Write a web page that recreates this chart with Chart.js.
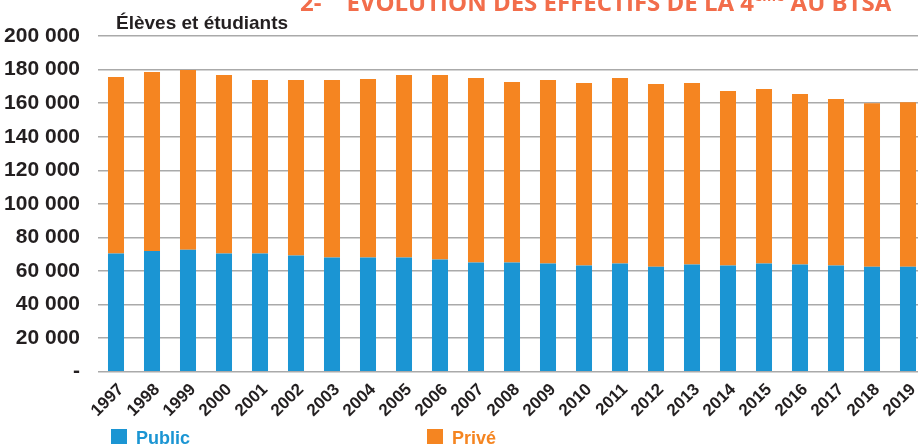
<!DOCTYPE html>
<html>
<head>
<meta charset="utf-8">
<script src="https://cdn.jsdelivr.net/npm/chart.js@4/dist/chart.umd.min.js"></script>
<style>
    html, body { margin: 0; padding: 0; background: #fff; }
    body { width: 918px; height: 444px; overflow: hidden; position: relative; }
    #wrap { position: absolute; left: 0; top: 0; width: 930px; height: 444px; }
    .title {
        position: absolute; left: 300px; top: -13px; white-space: nowrap;
        font-family: "Open Sans", sans-serif; font-weight: 700; font-size: 24px;
        color: #F26D4B; line-height: 30px;
    }
    .title sup { font-size: 14px; vertical-align: 10px; line-height: 0; }
    .subtitle {
        position: absolute; left: 116px; top: 12px; white-space: nowrap;
        font-family: "Liberation Sans Narrow", sans-serif; font-weight: 700; font-size: 19px;
        color: #231F20;
    }
    .legend { position: absolute; top: 428px; font-family: "Liberation Sans Narrow", sans-serif;
        font-weight: 700; font-size: 18px; white-space: nowrap; }
    .legend span.box { display: inline-block; width: 16px; height: 16px; vertical-align: top; margin-right: 9px; margin-top: 1px; }
</style>
</head>
<body>
<div id="wrap"><canvas id="chart"></canvas></div>
<div class="title">2-&nbsp;&nbsp;&nbsp;&nbsp;ÉVOLUTION DES EFFECTIFS DE LA 4<sup>ème</sup> AU BTSA</div>
<div class="subtitle">Élèves et étudiants</div>
<div class="legend" style="left:111px;color:#1B95D3"><span class="box" style="background:#1B95D3"></span>Public</div>
<div class="legend" style="left:427px;color:#F58521"><span class="box" style="background:#F58521"></span>Privé</div>
<script>
// Chart data
const years = ['1997', '1998', '1999', '2000', '2001', '2002', '2003', '2004', '2005', '2006', '2007', '2008',
    '2009', '2010', '2011', '2012', '2013', '2014', '2015', '2016', '2017', '2018', '2019'];
const publicValues = [70400, 71900, 72700, 70400, 70400, 69200, 68000, 68000, 68000, 66800, 65000, 65000,
    64400, 63200, 64400, 62600, 63800, 63200, 64400, 63800, 63200, 62600, 62600];
const priveValues = [105100, 106600, 107000, 106300, 103400, 104600, 105800, 106400, 108700, 109900, 110000, 107600,
    109400, 108800, 110600, 108800, 108200, 104000, 104000, 101600, 99200, 97400, 98000];
const yTicks = [0, 20000, 40000, 60000, 80000, 100000, 120000, 140000, 160000, 180000, 200000];

const BLUE = '#1B95D3';
const ORANGE = '#F58521';

function formatTick(v) {
    if (v === 0) return '-';
    return String(v).replace(/\B(?=(\d{3})+(?!\d))/g, ' ');
}

new Chart(document.getElementById('chart'), {
    type: 'bar',
    data: {
        labels: years,
        datasets: [
            { label: 'Public', data: publicValues, backgroundColor: BLUE },
            { label: 'Privé', data: priveValues, backgroundColor: ORANGE }
        ]
    },
    options: {
        responsive: true,
        maintainAspectRatio: false,
        animation: false,
        layout: { padding: { top: 36, right: 4, left: 0, bottom: 0 } },
        datasets: { bar: { categoryPercentage: 1, barPercentage: 0.445 } },
        plugins: { legend: { display: false }, tooltip: { enabled: false } },
        scales: {
            x: {
                stacked: true,
                grid: { display: false },
                border: { display: false },
                ticks: {
                    maxRotation: 45, minRotation: 45, autoSkip: false, padding: 0, labelOffset: 5,
                    color: '#231F20',
                    font: { family: '"Liberation Sans Narrow", sans-serif', weight: 'bold', size: 17 }
                },
                afterFit: s => { s.height = 72.3; }
            },
            y: {
                stacked: true,
                min: 0, max: 200000,
                afterBuildTicks: s => { s.ticks = yTicks.map(v => ({ value: v })); },
                grid: { color: '#AAAAAA', lineWidth: 1.5, drawTicks: false },
                border: { display: false },
                ticks: {
                    padding: 18,
                    color: '#231F20',
                    callback: v => formatTick(v),
                    font: { family: '"Liberation Sans Narrow", sans-serif', weight: 'bold', size: 21 }
                },
                afterFit: s => { s.width = 98; }
            }
        }
    }
});
</script>
</body>
</html>
